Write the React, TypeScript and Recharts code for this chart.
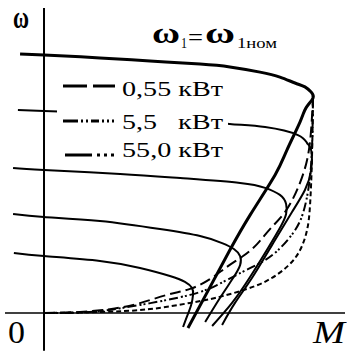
import { LineChart, Line, XAxis, YAxis, ReferenceLine, Legend } from 'recharts';

// M — момент, ω — скорость (обе в % : M от Mк, ω от ω0)
const M_RANGE = [-16.36, 112.64];
const W_RANGE = [-14.67, 120.85];

// механические характеристики (сплошные), от верхней к нижней
const c1M = [-8.9, 0, 20.8, 39.4, 58.0, 69.1, 80.3, 87.7, 93.3, 97.0, 99.3, 100, 97.4, 95.2, 90.3, 85.9, 76.6, 69.1, 61.7, 53.5];
const c1W = [100, 99.6, 98.5, 97.3, 96.1, 95.0, 93.0, 91.1, 88.8, 87.3, 85.3, 83.0, 79.2, 73.8, 62.9, 53.3, 37.8, 24.3, 10.0, -5.8];

const c2M = [-9.7, 0, 20.8, 39.4, 58.0, 69.1, 82.2, 94.4, 97.8, 99.3, 99.3, 97.0, 92.2, 84.8, 77.3, 71.0, 66.2];
const c2W = [78.4, 78.0, 77.2, 76.1, 74.5, 73.0, 71.8, 68.7, 65.6, 62.9, 55.2, 47.5, 39.0, 26.3, 13.5, 3.9, -4.6];

const c3M = [-11.5, 0, 28.3, 50.6, 72.9, 82.2, 87.7, 90.0, 90.0, 88.1, 83.3, 76.6, 69.9, 62.5];
const c3W = [56.0, 55.2, 53.7, 52.1, 50.2, 48.3, 45.6, 42.1, 38.2, 33.6, 25.1, 13.9, 3.9, -5.0];

const c4M = [-11.5, 0, 20.8, 43.1, 58.0, 66.2, 70.6, 72.9, 72.9, 70.3, 65.4, 59.9];
const c4W = [38.2, 37.1, 35.5, 32.4, 29.7, 27.0, 24.7, 22.0, 18.5, 13.5, 5.8, -3.5];

const c5M = [-11.2, 0, 20.8, 35.7, 46.8, 52.4, 55.0, 55.4, 54.7, 53.2, 51.7];
const c5W = [23.2, 22.0, 20.1, 17.4, 14.3, 12.0, 9.7, 7.0, 3.1, -1.2, -5.4];

// пунктирные кривые по мощности двигателя
const p055M = [0, 13.4, 24.5, 34.6, 45.7, 54.3, 61.7, 68.0, 74.0, 79.2, 84.0, 89.6, 94.4, 97.8, 99.3, 100];
const p055W = [0, 0.4, 1.5, 3.5, 7.0, 9.3, 13.1, 17.8, 22.0, 26.6, 32.4, 39.0, 48.3, 59.1, 70.7, 83.0];

const p55M = [0, 17.1, 35.7, 54.3, 64.3, 72.9, 80.3, 86.6, 92.6, 96.3, 98.5, 99.6, 100];
const p55W = [0, 0.4, 3.1, 7.0, 10.8, 15.4, 19.3, 23.9, 30.9, 38.6, 49.4, 62.9, 83.0];

const p550M = [0, 20.8, 39.4, 54.3, 63.6, 75.5, 84.0, 90.7, 95.2, 97.8, 98.9, 99.6, 100];
const p550W = [0, 0.4, 1.5, 3.9, 5.8, 9.3, 13.1, 18.2, 24.3, 32.1, 41.7, 59.1, 83.0];

const zip = (ms: number[], ws: number[]) => ms.map((m, i) => ({ m, w: ws[i] }));

const SOLID = [
  { key: 'c1', data: zip(c1M, c1W), width: 3 },
  { key: 'c2', data: zip(c2M, c2W), width: 2 },
  { key: 'c3', data: zip(c3M, c3W), width: 2 },
  { key: 'c4', data: zip(c4M, c4W), width: 2 },
  { key: 'c5', data: zip(c5M, c5W), width: 2 },
];

const DASHED = [
  { key: '0,55 кВт', data: zip(p055M, p055W), dash: '11 5' },
  { key: '5,5 кВт', data: zip(p55M, p55W), dash: '9 3 2 2 2 3' },
  { key: '55,0 кВт', data: zip(p550M, p550W), dash: '5 3' },
];

const serif = '"Liberation Serif", "Times New Roman", serif';

// легенда — белая плашка поверх второй кривой
const LegendBox = () => (
  <svg width={171} height={92} style={{ display: 'block', background: '#fff' }}>
    <g stroke="#000" strokeWidth={3}>
      <line x1={6} y1={14} x2={30} y2={14} />
      <line x1={36} y1={14} x2={58} y2={14} />

      <line x1={6} y1={49} x2={21} y2={49} />
      <line x1={24} y1={49} x2={26} y2={49} />
      <line x1={29} y1={49} x2={31} y2={49} />
      <line x1={34} y1={49} x2={42} y2={49} />
      <line x1={45} y1={49} x2={47} y2={49} />
      <line x1={50} y1={49} x2={52} y2={49} />
      <line x1={55} y1={49} x2={57} y2={49} />

      <line x1={8} y1={83} x2={35} y2={83} />
      <line x1={40} y1={83} x2={43} y2={83} />
      <line x1={47} y1={83} x2={50} y2={83} />
      <line x1={54} y1={83} x2={57} y2={83} />
    </g>
    <g fontFamily={serif} fontSize={20} fill="#000">
      <text x={65} y={24} textLength={101} lengthAdjust="spacingAndGlyphs">0,55 кВт</text>
      <text x={65} y={57} textLength={35} lengthAdjust="spacingAndGlyphs">5,5</text>
      <text x={121} y={57} textLength={45} lengthAdjust="spacingAndGlyphs">кВт</text>
      <text x={65} y={85} textLength={101} lengthAdjust="spacingAndGlyphs">55,0 кВт</text>
    </g>
  </svg>
);

export default function App() {
  return (
    <div style={{ position: 'absolute', left: 0, top: 0, width: 347, height: 351, background: '#fff' }}>
      <LineChart width={347} height={351} margin={{ top: 0, right: 0, bottom: 0, left: 0 }}>
        <XAxis dataKey="m" type="number" domain={M_RANGE} allowDataOverflow hide />
        <YAxis dataKey="w" type="number" domain={W_RANGE} allowDataOverflow hide />

        {/* оси */}
        <ReferenceLine segment={[{ x: 0, y: -14.6 }, { x: 0, y: 117.8 }]} stroke="#000" strokeWidth={2} />
        <ReferenceLine segment={[{ x: -14.5, y: 0 }, { x: 111.9, y: 0 }]} stroke="#000" strokeWidth={1.6} />

        {DASHED.map(s => (
          <Line
            key={s.key}
            data={s.data}
            dataKey="w"
            name={s.key}
            type="natural"
            stroke="#000"
            strokeWidth={2}
            strokeDasharray={s.dash}
            dot={false}
            activeDot={false}
            isAnimationActive={false}
          />
        ))}
        {SOLID.map(s => (
          <Line
            key={s.key}
            data={s.data}
            dataKey="w"
            name={s.key}
            type="natural"
            stroke="#000"
            strokeWidth={s.width}
            dot={false}
            activeDot={false}
            isAnimationActive={false}
            legendType="none"
          />
        ))}

        <Legend
          layout="vertical"
          align="center"
          verticalAlign="middle"
          content={LegendBox}
          wrapperStyle={{ left: 57, top: 72, width: 171, height: 92 }}
        />
      </LineChart>

      {/* подписи */}
      <svg width={347} height={351} style={{ position: 'absolute', left: 0, top: 0, pointerEvents: 'none' }}>
        <g fontFamily={serif} fill="#000">
          <text x={13} y={28} fontSize={31} fontWeight="bold" textLength={16} lengthAdjust="spacingAndGlyphs">ω</text>

          <text x={152} y={43} fontSize={30} fontWeight="bold" textLength={28} lengthAdjust="spacingAndGlyphs">ω</text>
          <text x={181} y={48} fontSize={15} textLength={6} lengthAdjust="spacingAndGlyphs">1</text>
          <text x={188} y={45} fontSize={24} textLength={15} lengthAdjust="spacingAndGlyphs">=</text>
          <text x={205} y={43} fontSize={30} fontWeight="bold" textLength={30} lengthAdjust="spacingAndGlyphs">ω</text>
          <text x={237} y={48} fontSize={15} textLength={40} lengthAdjust="spacingAndGlyphs">1ном</text>

          <text x={8} y={343} fontSize={31} textLength={17} lengthAdjust="spacingAndGlyphs">0</text>
          <text x={313} y={343} fontSize={31} fontStyle="italic" textLength={32} lengthAdjust="spacingAndGlyphs">M</text>
        </g>
      </svg>
    </div>
  );
}
